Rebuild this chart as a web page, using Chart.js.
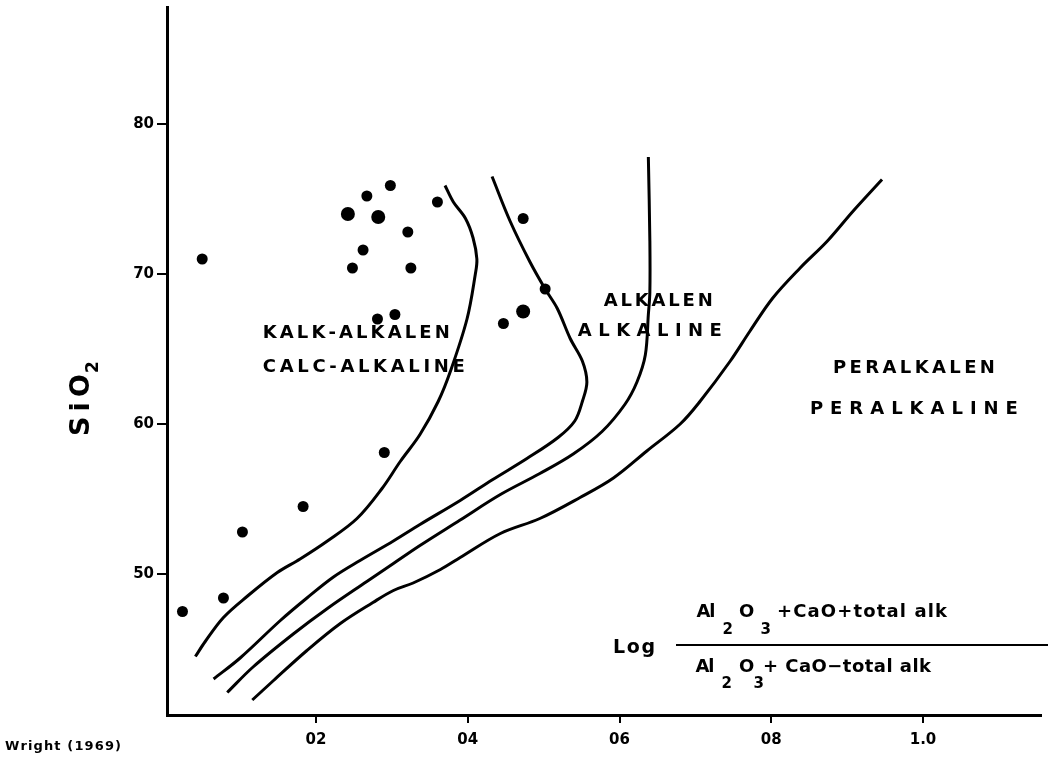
<!DOCTYPE html>
<html>
<head>
<meta charset="utf-8">
<script src="https://cdn.jsdelivr.net/npm/chart.js@4"></script>
<style>
  html, body { margin: 0; padding: 0; background: #fff; }
  #wrap { width: 1048px; height: 762px; }
</style>
</head>
<body>
<div id="wrap"><canvas id="myChart" width="1048" height="762"></canvas></div>
<script>
"use strict"

// Sample points (log ratio, SiO2)
const sampleX = [0.050, 0.298, 0.267, 0.360, 0.321, 0.262, 0.248, 0.325, 0.281, 0.304, 0.473, 0.502, 0.447, 0.024, 0.078, 0.103, 0.183, 0.290];
const sampleY = [71.0, 75.9, 75.2, 74.8, 72.8, 71.6, 70.4, 70.4, 67.0, 67.3, 73.7, 69.0, 66.7, 47.5, 48.4, 52.8, 54.5, 58.1];
const bigSampleX = [0.242, 0.282, 0.473];
const bigSampleY = [74.0, 73.8, 67.5];

// Field boundaries
const calcAlkX = [0.041, 0.054, 0.078, 0.109, 0.149, 0.179, 0.215, 0.254, 0.287, 0.311, 0.337, 0.361, 0.377, 0.399, 0.410, 0.412, 0.407, 0.397, 0.381, 0.370];
const calcAlkY = [44.5, 45.5, 47.1, 48.5, 50.1, 51.0, 52.2, 53.7, 55.7, 57.5, 59.3, 61.5, 63.5, 67.0, 70.0, 71.0, 72.4, 73.7, 74.8, 75.9];
const alkLeftX = [0.065, 0.100, 0.153, 0.188, 0.223, 0.258, 0.302, 0.337, 0.390, 0.433, 0.478, 0.519, 0.541, 0.551, 0.557, 0.551, 0.535, 0.518, 0.502, 0.482, 0.456, 0.432];
const alkLeftY = [43.0, 44.4, 46.9, 48.4, 49.8, 50.9, 52.2, 53.3, 54.9, 56.3, 57.7, 59.1, 60.2, 61.5, 62.8, 64.2, 65.7, 67.7, 69.0, 70.8, 73.5, 76.5];
const alkRightX = [0.083, 0.117, 0.170, 0.215, 0.267, 0.302, 0.337, 0.390, 0.443, 0.495, 0.539, 0.577, 0.607, 0.623, 0.634, 0.638, 0.640, 0.640, 0.638];
const alkRightY = [42.1, 43.8, 46.0, 47.7, 49.5, 50.7, 51.9, 53.6, 55.3, 56.7, 58.0, 59.5, 61.3, 62.8, 64.6, 67.3, 68.8, 72.2, 77.8];
const peralkX = [0.116, 0.144, 0.188, 0.232, 0.275, 0.302, 0.328, 0.364, 0.390, 0.443, 0.495, 0.548, 0.592, 0.636, 0.680, 0.706, 0.746, 0.772, 0.802, 0.838, 0.874, 0.908, 0.946];
const peralkY = [41.6, 42.9, 44.9, 46.7, 48.1, 48.9, 49.4, 50.3, 51.1, 52.7, 53.7, 55.1, 56.4, 58.2, 60.0, 61.5, 64.2, 66.2, 68.4, 70.4, 72.2, 74.2, 76.3];

// Axes
const xTickValues = [0.2, 0.4, 0.6, 0.8, 1.0];
const xTickLabels = ["02", "04", "06", "08", "1.0"];
const yTickValues = [50, 60, 70, 80];

// Field names (text, x, y, spread width in px)
const fieldLabels = [
    ["KALK-ALKALEN", 0.253, 66.06, 187],
    ["CALC-ALKALINE", 0.263, 63.80, 202],
    ["ALKALEN", 0.651, 68.19, 109],
    ["ALKALINE", 0.640, 66.20, 144],
    ["PERALKALEN", 0.988, 63.74, 162],
    ["PERALKALINE", 0.988, 61.01, 208]
];

const FONT = "'DejaVu Sans', 'Liberation Sans', Arial, sans-serif";

function zip(xs, ys) {
    return xs.map((x, i) => ({ x: x, y: ys[i] }));
}

// draws text spread evenly across a given width
function spreadText(ctx, text, cx, cy, width) {
    const chars = [...text];
    const widths = chars.map(c => ctx.measureText(c).width);
    const natural = widths.reduce((a, b) => a + b, 0);
    const gap = chars.length > 1 ? (width - natural) / (chars.length - 1) : 0;
    let x = cx - width / 2;
    ctx.textAlign = "left";
    ctx.textBaseline = "middle";
    for (let i = 0; i < chars.length; i++) {
        ctx.fillText(chars[i], x, cy);
        x += widths[i] + gap;
    }
}

function curveSet(xs, ys) {
    return {
        data: zip(xs, ys),
        showLine: true,
        borderColor: "#000",
        borderWidth: 3,
        pointRadius: 0,
        tension: 0.35,
        fill: false
    };
}

const annotations = {
    id: "annotations",
    afterDraw(chart) {
        const { ctx, scales: { x, y } } = chart;
        ctx.save();
        ctx.fillStyle = "#000";

        // field names
        ctx.font = "bold 18px " + FONT;
        fieldLabels.forEach(l => {
            spreadText(ctx, l[0], x.getPixelForValue(l[1]), y.getPixelForValue(l[2]), l[3]);
        });

        // y axis title SiO2
        ctx.save();
        ctx.translate(82, 405);
        ctx.rotate(-Math.PI / 2);
        ctx.font = "bold 27px " + FONT;
        spreadText(ctx, "SiO", 0, 0, 62);
        ctx.font = "bold 17px " + FONT;
        ctx.fillText("2", 32, 12);
        ctx.restore();

        // source
        ctx.font = "bold 13px " + FONT;
        spreadText(ctx, "Wright (1969)", 63, 747, 116);

        // x axis formula
        ctx.font = "bold 19px " + FONT;
        spreadText(ctx, "Log", 634, 648, 42);

        ctx.fillRect(676, 644, 372, 2);

        ctx.font = "bold 18px " + FONT;
        spreadText(ctx, "Al", 706, 612, 19);
        spreadText(ctx, "O", 746, 612, 14);
        spreadText(ctx, "+CaO+total alk", 862, 612, 170);
        spreadText(ctx, "Al", 705, 667, 19);
        spreadText(ctx, "O", 746, 667, 14);
        spreadText(ctx, "+ CaO\u2212total alk", 847, 667, 168);

        ctx.font = "bold 15px " + FONT;
        spreadText(ctx, "2", 727, 630, 9);
        spreadText(ctx, "3", 765, 630, 9);
        spreadText(ctx, "2", 726, 684, 9);
        spreadText(ctx, "3", 758, 684, 9);

        ctx.restore();
    }
};

(function CreateChart() {
    const ctx = document.getElementById("myChart");

    new Chart(ctx, {
        type: "scatter",
        data: {
            datasets: [
                curveSet(calcAlkX, calcAlkY),
                curveSet(alkLeftX, alkLeftY),
                curveSet(alkRightX, alkRightY),
                curveSet(peralkX, peralkY),
                {
                    data: zip(sampleX, sampleY),
                    pointRadius: 5.5,
                    pointBackgroundColor: "#000",
                    pointBorderWidth: 0
                },
                {
                    data: zip(bigSampleX, bigSampleY),
                    pointRadius: 7,
                    pointBackgroundColor: "#000",
                    pointBorderWidth: 0
                }
            ]
        },
        options: {
            responsive: false,
            animation: false,
            layout: { padding: { top: 5, right: 0, left: 0, bottom: 0 } },
            plugins: {
                legend: { display: false },
                tooltip: { enabled: false }
            },
            scales: {
                x: {
                    type: "linear",
                    min: 0.0036,
                    max: 1.1555,
                    afterBuildTicks: (axis) => { axis.ticks = xTickValues.map(v => ({ value: v })); },
                    afterFit: (axis) => {
                        axis.height = 47;
                        axis.paddingLeft = 0;
                        axis.paddingRight = 0;
                    },
                    ticks: {
                        color: "#000",
                        padding: 8,
                        font: { family: FONT, size: 15, weight: "bold" },
                        callback: (value) => xTickLabels[xTickValues.indexOf(value)]
                    },
                    grid: { drawOnChartArea: false, drawTicks: true, tickLength: 8, color: "#000", lineWidth: 2 },
                    border: { color: "#000", width: 3 }
                },
                y: {
                    type: "linear",
                    min: 40.6,
                    max: 87.8,
                    afterBuildTicks: (axis) => { axis.ticks = yTickValues.map(v => ({ value: v })); },
                    afterFit: (axis) => {
                        axis.width = 167;
                        axis.paddingTop = 0;
                        axis.paddingBottom = 0;
                    },
                    ticks: {
                        color: "#000",
                        padding: 3,
                        font: { family: FONT, size: 15, weight: "bold" },
                        callback: (value) => String(value)
                    },
                    grid: { drawOnChartArea: false, drawTicks: true, tickLength: 10, color: "#000", lineWidth: 2 },
                    border: { color: "#000", width: 3 }
                }
            }
        },
        plugins: [annotations]
    });
}())
</script>
</body>
</html>
